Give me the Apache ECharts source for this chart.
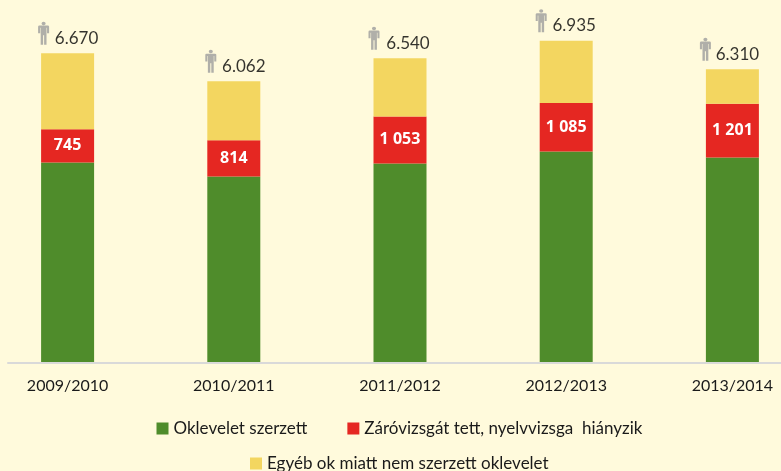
<!DOCTYPE html>
<html><head><meta charset="utf-8">
<style>html,body{margin:0;padding:0;background:#FFFADC}#c{width:781px;height:471px}</style>
<script src="https://cdn.jsdelivr.net/npm/echarts@6/dist/echarts.min.js"></script>
</head><body><div id="c"></div>
<script>
const categories = ['2009/2010','2010/2011','2011/2012','2012/2013','2013/2014'];
const oklevelet = [4465,4150,4443,4712,4577];
const zarovizsga = [745,814,1053,1085,1201];
const egyeb = [1700,1318,1302,1390,773];
const totalLabels = ['6.670','6.062','6.540','6.935','6.310'];
const redLabels = ['745','814','1 053','1 085','1 201'];
const names = ['Oklevelet szerzett','Záróvizsgát tett, nyelvvizsga  hiányzik','Egyéb ok miatt nem szerzett oklevelet'];
const colors = ['#4F8C2B','#E52722','#F3D660'];
const iconShift = [-24,-23,-26,-25,-27];
const labelShift = [33,33,34,33,32];
const tops = categories.map((_, i) => oklevelet[i] + zarovizsga[i] + egyeb[i]);
const person = 'path://M50 0a12 12 0 1 0 .01 0zM26 27h48q8 0 8 8v46h-12v-38h-3v117h-14v-66h-6v66h-14v-117h-3v38h-12v-46q0-8 8-8z';
const chart = echarts.init(document.getElementById('c'), null, {renderer:'canvas'});
const legendText = {fontFamily:'Lato', fontSize:17, color:'#1a1a1a'};
chart.setOption({
  animation:false,
  backgroundColor:'#FFFADC',
  grid:[
    {left:-15.5,right:-34.5,top:0,bottom:109,outerBoundsMode:'none'},
    {left:8,right:0,top:0,bottom:108,outerBoundsMode:'none'}
  ],
  xAxis:[
    {type:'category',gridIndex:0,data:categories,axisLine:{show:false},axisTick:{show:false},
     axisLabel:{fontFamily:'Lato',fontSize:16,color:'#1a1a1a',margin:16}},
    {type:'category',gridIndex:1,data:categories,axisLine:{lineStyle:{color:'#D9D9D9',width:2}},axisTick:{show:false},axisLabel:{show:false}}
  ],
  yAxis:[
    {type:'value',gridIndex:0,min:0,max:8100,show:false},
    {type:'value',gridIndex:1,min:0,max:8100,show:false}
  ],
  legend:[
    {left:146.5,top:410,itemWidth:12,itemHeight:12,itemGap:40,padding:10,icon:'rect',textStyle:legendText,data:names.slice(0,2)},
    {left:240,top:445,itemWidth:12,itemHeight:12,padding:10,icon:'rect',textStyle:legendText,data:names.slice(2)}
  ],
  series:[
    {name:names[0],type:'bar',stack:'t',barWidth:53,data:oklevelet,itemStyle:{color:colors[0]}},
    {name:names[1],type:'bar',stack:'t',barWidth:53,data:zarovizsga,itemStyle:{color:colors[1]},
     label:{show:true,position:'inside',color:'#fff',fontFamily:'Noto Sans',fontWeight:'bold',fontSize:16,
       formatter:p=>redLabels[p.dataIndex]}},
    {name:names[2],type:'bar',stack:'t',barWidth:53,data:egyeb,itemStyle:{color:colors[2]}},
    {name:'total',type:'scatter',
     data:tops.map((v,i)=>({value:v,symbolOffset:[iconShift[i],-20],label:{offset:[labelShift[i],5]}})),
     symbol:person,symbolSize:[11,23],itemStyle:{color:'#9C9C9C'},z:5,
     label:{show:true,position:'inside',color:'#000',fontFamily:'Lato',fontSize:17,
       formatter:p=>totalLabels[p.dataIndex]}}
  ]
});
</script></body></html>
